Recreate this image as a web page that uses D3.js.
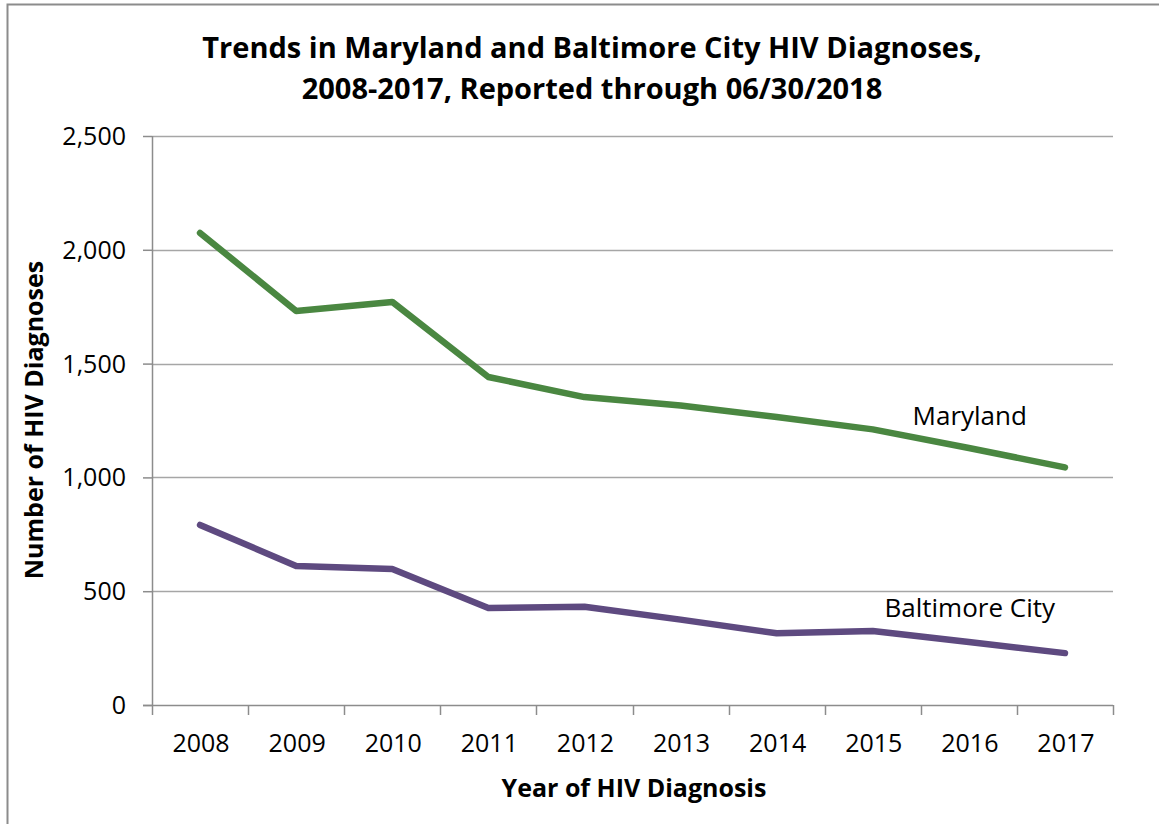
<!DOCTYPE html>
<head>
    <title>Maryland and Baltimore City HIV diagnoses</title>
</head>
<meta charset="utf-8">
<script src="https://d3js.org/d3.v7.min.js"></script>
<style>
  body { margin: 0; background: #fff; }
  text { font-family: "Open Sans", sans-serif; fill: #000; }
</style>
<body>
<div id="my_dataviz"></div>
<script>

var years = ["2008","2009","2010","2011","2012","2013","2014","2015","2016","2017"]
var maryland = [2074, 1731, 1771, 1441, 1353, 1316, 1265, 1211, 1129, 1044]
var baltimore = [791, 611, 598, 426, 432, 375, 315, 325, 277, 228]
var yTicks = [0, 500, 1000, 1500, 2000, 2500]

var margin = {top: 136, right: 46, bottom: 119, left: 152},
  width = 1159 - margin.left - margin.right,
  height = 824 - margin.top - margin.bottom;

var root = d3.select("#my_dataviz")
  .append("svg")
    .attr("width", 1159)
    .attr("height", 824)

// frame of the original picture (top and left edges only)
root.append("path")
  .attr("d", "M7.5,824 V4.5 H1159")
  .style("fill", "none")
  .style("stroke", "#8c8c8c")
  .style("stroke-width", 2)

var svg = root.append("g")
  .attr("transform", "translate(" + margin.left + "," + margin.top + ")")

var x = d3.scaleBand().domain(years).range([0, width])
var y = d3.scaleLinear().domain([0, 2500]).range([height, 0])

// gridlines
svg.selectAll("grid")
  .data(yTicks.slice(1)).enter()
  .append("line")
    .attr("x1", 0).attr("x2", width)
    .attr("y1", function(d){ return Math.round(y(d)) + 0.5 })
    .attr("y2", function(d){ return Math.round(y(d)) + 0.5 })
    .style("stroke", "#a6a6a6")
    .style("stroke-width", 1.5)

// y axis
var yAxis = svg.append("g")
  .call(d3.axisLeft(y).tickValues(yTicks).tickSize(9).tickPadding(17).tickFormat(d3.format(",")))
yAxis.select(".domain").attr("d", "M0.5," + height + "V0").style("stroke", "#8c8c8c").style("stroke-width", 1.5)
yAxis.selectAll(".tick line").style("stroke", "#8c8c8c").style("stroke-width", 1.5)
yAxis.selectAll("text").style("font-size", "25px").attr("dy", "0.34em")

// x axis with ticks between categories
var xAxis = svg.append("g").attr("transform", "translate(0," + height + ")")
xAxis.append("line")
  .attr("x1", -9).attr("x2", width)
  .attr("y1", 0.5).attr("y2", 0.5)
  .style("stroke", "#8c8c8c").style("stroke-width", 1.5)
xAxis.selectAll("sep")
  .data(years.concat(["end"])).enter()
  .append("line")
    .attr("x1", function(d, i){ return Math.round(i * x.step()) + 0.5 })
    .attr("x2", function(d, i){ return Math.round(i * x.step()) + 0.5 })
    .attr("y1", 0).attr("y2", 10)
    .style("stroke", "#8c8c8c").style("stroke-width", 1.5)
xAxis.selectAll("lbl")
  .data(years).enter()
  .append("text")
    .attr("x", function(d){ return x(d) + x.bandwidth() / 2 + 1 })
    .attr("y", 47)
    .style("text-anchor", "middle")
    .style("font-size", "25px")
    .text(function(d){ return d })

// lines
var line = d3.line()
  .x(function(d, i){ return x(years[i]) + x.bandwidth() / 2 })
  .y(function(d){ return y(d) })

var series = [
  {name: "Maryland", values: maryland, color: "#4a8741"},
  {name: "Baltimore City", values: baltimore, color: "#5e4a80"}
]

svg.selectAll("myPath")
  .data(series).enter()
  .append("path")
    .attr("d", function(d){ return line(d.values) })
    .style("fill", "none")
    .style("stroke", function(d){ return d.color })
    .style("stroke-width", 6.5)
    .style("stroke-linejoin", "round")
    .style("stroke-linecap", "round")

// series labels
svg.append("text")
  .attr("x", x("2015") + x.bandwidth() / 2 + 97)
  .attr("y", 425 - margin.top)
  .style("text-anchor", "middle")
  .style("font-size", "26px")
  .text("Maryland")
svg.append("text")
  .attr("x", x("2015") + x.bandwidth() / 2 + 97)
  .attr("y", 617 - margin.top)
  .style("text-anchor", "middle")
  .style("font-size", "26px")
  .text("Baltimore City")

// title
root.append("text")
  .attr("x", 592).attr("y", 58)
  .style("text-anchor", "middle")
  .style("font-size", "29px")
  .style("font-weight", "bold")
  .text("Trends in Maryland and Baltimore City HIV Diagnoses,")
root.append("text")
  .attr("x", 592).attr("y", 99)
  .style("text-anchor", "middle")
  .style("font-size", "29px")
  .style("font-weight", "bold")
  .text("2008-2017, Reported through 06/30/2018")

// axis titles
root.append("text")
  .attr("x", 634).attr("y", 797)
  .style("text-anchor", "middle")
  .style("font-size", "25px")
  .style("font-weight", "bold")
  .text("Year of HIV Diagnosis")
root.append("text")
  .attr("transform", "translate(43,420) rotate(-90)")
  .style("text-anchor", "middle")
  .style("font-size", "25px")
  .style("font-weight", "bold")
  .text("Number of HIV Diagnoses")

</script>
</body>
